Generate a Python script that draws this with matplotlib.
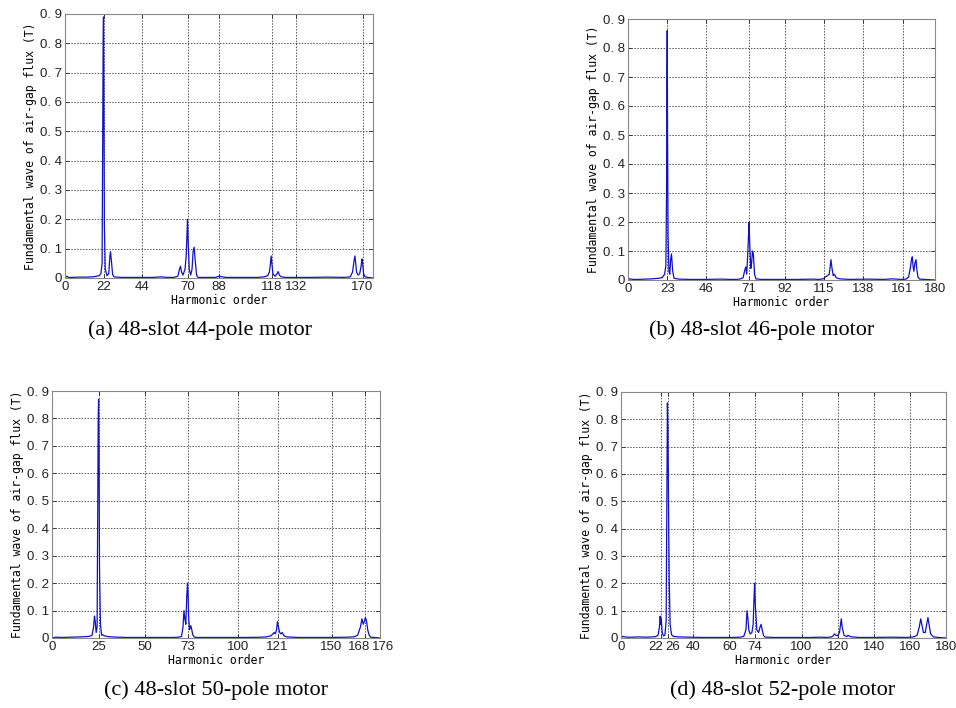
"""Air-gap flux harmonic spectra for four 48-slot motors (2x2 panel figure)."""
import matplotlib
matplotlib.use("Agg")
import matplotlib.pyplot as plt
from matplotlib.transforms import ScaledTranslation

# ---- data: harmonic order vs. amplitude (T) ----
a_x = [0, 1, 2, 4, 8, 12, 16, 18, 19.5, 20.5, 21.2, 21.6, 21.8, 22.0, 22.2, 22.5, 23.0, 24.0, 25.0, 25.6,
       26.0, 26.5, 27.2, 28, 32, 40, 50, 55, 58, 62, 64.5, 65.4, 66.0, 66.6, 67.4, 68.6, 69.3, 69.7, 70.0, 70.4,
       71.0, 71.8, 72.6, 73.2, 73.8, 74.4, 75.2, 76, 80, 86, 88, 92, 100, 110, 114, 115.8, 116.8, 117.4, 117.8,
       118.2, 118.8, 120, 121.2, 121.8, 122.5, 123.5, 126, 130, 140, 150, 160, 163, 164.3, 165.2, 165.7, 166.1,
       166.6, 167.5, 168.4, 169.2, 169.7, 170.1, 170.6, 171.5, 173, 176]
a_y = [0, 0.006, 0.002, 0.002, 0.003, 0.003, 0.004, 0.006, 0.008, 0.015, 0.05, 0.55, 0.81, 0.89, 0.65, 0.18,
       0.03, 0.008, 0.015, 0.07, 0.09, 0.06, 0.012, 0.004, 0.002, 0.002, 0.002, 0.004, 0.002, 0.002, 0.006, 0.03,
       0.04, 0.02, 0.01, 0.03, 0.08, 0.15, 0.2, 0.12, 0.03, 0.01, 0.03, 0.09, 0.105, 0.06, 0.01, 0.002, 0.002,
       0.002, 0.006, 0.002, 0.002, 0.002, 0.004, 0.008, 0.02, 0.05, 0.075, 0.05, 0.015, 0.006, 0.015, 0.022,
       0.01, 0.004, 0.002, 0.002, 0.002, 0.003, 0.002, 0.004, 0.02, 0.06, 0.075, 0.05, 0.02, 0.01, 0.015, 0.04,
       0.065, 0.05, 0.015, 0.004, 0.002, 0]

b_x = [0, 1, 3, 6, 10, 14, 18, 20, 21.5, 22.2, 22.6, 22.8, 23.0, 23.2, 23.5, 24.0, 24.5, 25.0, 25.5, 26.2,
       27, 30, 36, 45, 55, 60, 64, 66, 67.5, 68.3, 69.0, 69.6, 70.3, 70.7, 71.0, 71.4, 72.0, 72.5, 73.0, 73.5,
       74.2, 75, 78, 85, 90, 100, 108, 112, 114.5, 116, 117, 118, 118.6, 119.0, 119.5, 120.3, 121.0, 122, 124,
       130, 140, 150, 155, 160, 163, 164.5, 165.5, 166.2, 166.7, 167.1, 167.6, 168.3, 168.9, 169.3, 170, 171,
       174, 180]
b_y = [0, 0.004, 0.002, 0.002, 0.003, 0.004, 0.006, 0.008, 0.02, 0.05, 0.3, 0.66, 0.86, 0.5, 0.15, 0.03,
       0.02, 0.07, 0.09, 0.03, 0.006, 0.003, 0.002, 0.002, 0.003, 0.002, 0.002, 0.004, 0.008, 0.03, 0.045, 0.02,
       0.1, 0.16, 0.2, 0.12, 0.04, 0.06, 0.1, 0.09, 0.02, 0.004, 0.002, 0.002, 0.002, 0.002, 0.003, 0.002,
       0.004, 0.012, 0.015, 0.02, 0.05, 0.07, 0.045, 0.015, 0.02, 0.008, 0.004, 0.002, 0.003, 0.002, 0.004,
       0.002, 0.003, 0.01, 0.04, 0.07, 0.08, 0.05, 0.03, 0.06, 0.07, 0.04, 0.01, 0.003, 0.002, 0]

c_x = [0, 2, 5, 10, 15, 18, 20, 21.5, 22.3, 22.8, 23.2, 23.7, 24.2, 24.6, 24.8, 25.0, 25.2, 25.5, 26.0, 26.6,
       27.2, 28, 30, 35, 40, 50, 60, 65, 68, 69.5, 70.3, 70.8, 71.3, 71.8, 72.3, 72.7, 73.0, 73.3, 73.8, 74.5,
       75.0, 75.6, 76.5, 78, 85, 95, 105, 112, 115, 117.5, 118.5, 119.2, 119.8, 120.5, 121.0, 121.5, 122.2,
       122.8, 123.5, 124.5, 126, 132, 140, 150, 158, 162, 164, 165.5, 166.3, 167.0, 167.6, 168.2, 168.8, 169.4,
       170.2, 171, 173, 176]
c_y = [0, 0.003, 0.002, 0.003, 0.004, 0.005, 0.006, 0.01, 0.04, 0.08, 0.06, 0.02, 0.04, 0.55, 0.8, 0.87,
       0.71, 0.25, 0.05, 0.01, 0.012, 0.008, 0.005, 0.003, 0.002, 0.002, 0.002, 0.002, 0.003, 0.006, 0.04, 0.1,
       0.07, 0.05, 0.15, 0.2, 0.16, 0.08, 0.03, 0.045, 0.03, 0.01, 0.003, 0.002, 0.002, 0.002, 0.002, 0.003,
       0.004, 0.008, 0.015, 0.02, 0.015, 0.03, 0.06, 0.04, 0.02, 0.015, 0.02, 0.008, 0.004, 0.002, 0.002,
       0.002, 0.003, 0.004, 0.01, 0.04, 0.07, 0.05, 0.06, 0.075, 0.06, 0.03, 0.01, 0.003, 0.002, 0]

d_x = [0, 1, 3, 6, 10, 14, 17, 19, 20.5, 21.3, 21.7, 22.0, 22.3, 22.8, 23.5, 24.3, 25.0, 25.4, 25.7, 26.0,
       26.3, 26.7, 27.2, 28, 29, 32, 38, 45, 55, 62, 66, 68, 69.2, 69.8, 70.3, 70.8, 71.5, 72.5, 73.2, 73.7,
       74.0, 74.4, 75.2, 76.2, 77.0, 77.6, 78.2, 79, 80, 85, 95, 105, 110, 114, 116.5, 117.5, 118.2, 119, 120,
       121, 121.6, 122, 122.5, 123.5, 125, 125.8, 126.6, 128, 132, 140, 150, 158, 162, 164, 165.2, 166.0,
       166.6, 167.5, 168.5, 169.3, 170.0, 170.6, 171.5, 173, 176, 180]
d_y = [0, 0.006, 0.003, 0.003, 0.004, 0.003, 0.004, 0.005, 0.01, 0.04, 0.08, 0.05, 0.07, 0.02, 0.008, 0.01,
       0.06, 0.5, 0.86, 0.76, 0.5, 0.22, 0.05, 0.012, 0.006, 0.004, 0.003, 0.002, 0.002, 0.002, 0.003, 0.006,
       0.03, 0.1, 0.07, 0.03, 0.015, 0.02, 0.05, 0.15, 0.2, 0.12, 0.03, 0.02, 0.04, 0.05, 0.03, 0.008, 0.003,
       0.002, 0.002, 0.002, 0.003, 0.002, 0.004, 0.008, 0.015, 0.01, 0.008, 0.02, 0.05, 0.07, 0.04, 0.01,
       0.005, 0.01, 0.006, 0.004, 0.002, 0.002, 0.003, 0.002, 0.004, 0.01, 0.04, 0.07, 0.05, 0.02, 0.02, 0.05,
       0.075, 0.05, 0.015, 0.004, 0.002, 0]

a_ticks = [0, 22, 44, 70, 88, 118, 132, 170]
b_ticks = [0, 23, 46, 71, 92, 115, 138, 161, 180]
c_ticks = [0, 25, 50, 73, 100, 121, 150, 168, 176]
d_ticks = [0, 22, 26, 40, 60, 74, 100, 120, 140, 160, 180]

y_ticks = [0, 0.1, 0.2, 0.3, 0.4, 0.5, 0.6, 0.7, 0.8, 0.9]
y_labels = ["0", "0. 1", "0. 2", "0. 3", "0. 4", "0. 5", "0. 6", "0. 7", "0. 8", "0. 9"]

captions = ["(a) 48-slot 44-pole motor", "(b) 48-slot 46-pole motor",
            "(c) 48-slot 50-pole motor", "(d) 48-slot 52-pole motor"]

LINE = "#1010c8"
MONO = "DejaVu Sans Mono"


def draw_panel(ax, x, y, ticks, xmax, nudge=None):
    ax.plot(x, y, color=LINE, lw=0.9)
    ax.set_xlim(0, xmax)
    ax.set_ylim(0, 0.9)
    ax.set_xticks(ticks)
    ax.set_xticklabels([str(t) for t in ticks])
    ax.set_yticks(y_ticks)
    ax.set_yticklabels(y_labels)
    ax.grid(True, ls=(0, (1.5, 1.5)), color="#555555", lw=0.7)
    ax.set_axisbelow(True)
    ax.tick_params(direction="in", length=3, width=0.6, top=True, right=True,
                   labelsize=9.5, pad=2, colors="#222222")
    for lab in ax.get_xticklabels() + ax.get_yticklabels():
        lab.set_family("Liberation Sans")
    # crowded tick labels sit side by side in the original, push them apart a bit
    if nudge:
        for lab, t in zip(ax.get_xticklabels(), ticks):
            if t in nudge:
                dx = nudge[t] / 72.0
                lab.set_transform(lab.get_transform()
                                  + ScaledTranslation(dx, 0, ax.figure.dpi_scale_trans))
    for s in ax.spines.values():
        s.set_color("#888888")
        s.set_linewidth(0.8)
    ax.set_xlabel("Harmonic order", family=MONO, fontsize=8.3, labelpad=1)
    ax.set_ylabel("Fundamental wave of air-gap flux (T)", family=MONO, fontsize=8.3, labelpad=2)


fig = plt.figure(figsize=(9.56, 7.08), dpi=100)
fig.patch.set_facecolor("white")

ax_a = fig.add_axes([65 / 956, 1 - 278 / 708, 308 / 956, 264 / 708])
ax_b = fig.add_axes([628 / 956, 1 - 280 / 708, 307 / 956, 261 / 708])
ax_c = fig.add_axes([52 / 956, 1 - 638 / 708, 328 / 956, 247 / 708])
ax_d = fig.add_axes([621 / 956, 1 - 638 / 708, 325 / 956, 246 / 708])

draw_panel(ax_a, a_x, a_y, a_ticks, 176)
draw_panel(ax_b, b_x, b_y, b_ticks, 180)
draw_panel(ax_c, c_x, c_y, c_ticks, 176, nudge={168: -4.5, 176: 2.5})
draw_panel(ax_d, d_x, d_y, d_ticks, 180, nudge={22: -3.5, 26: 3.5})

# captions under each panel (Times-like serif)
cap_pos = [(200, 330), (762, 330), (216, 690), (783, 690)]
for text, (px, py) in zip(captions, cap_pos):
    fig.text(px / 956, 1 - py / 708, text, ha="center", va="center",
             family="Liberation Serif", fontsize=16)

fig.savefig("out.png", dpi=100, facecolor="white")
